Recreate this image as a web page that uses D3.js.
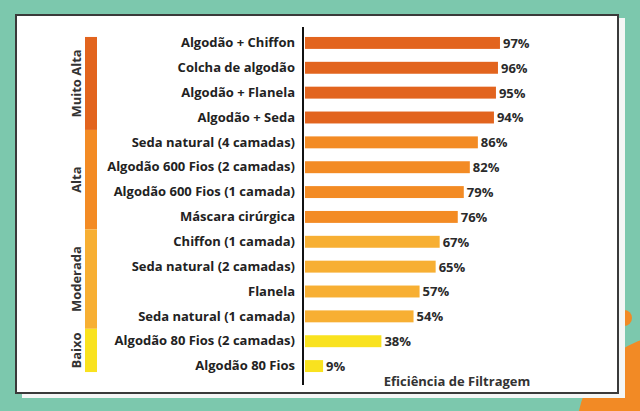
<!DOCTYPE html>
<html>
<head>
<meta charset="utf-8">
<script src="https://cdn.jsdelivr.net/npm/d3@7"></script>
<style>
  html, body { margin: 0; padding: 0; background: #7cc8ad; }
  svg { display: block; }
  text { font-family: "Open Sans", sans-serif; font-weight: 700; fill: #222; }
</style>
</head>
<body>
<div id="chart"></div>
<script>
// materials, top to bottom
var materials = [
  "Algodão + Chiffon", "Colcha de algodão", "Algodão + Flanela", "Algodão + Seda",
  "Seda natural (4 camadas)", "Algodão 600 Fios (2 camadas)", "Algodão 600 Fios (1 camada)",
  "Máscara cirúrgica", "Chiffon (1 camada)", "Seda natural (2 camadas)", "Flanela",
  "Seda natural (1 camada)", "Algodão 80 Fios (2 camadas)", "Algodão 80 Fios"
];
var efficiency = [97, 96, 95, 94, 86, 82, 79, 76, 67, 65, 57, 54, 38, 9];
var levels = ["Muito Alta", "Alta", "Moderada", "Baixo"];
var levelOf = ["Muito Alta", "Muito Alta", "Muito Alta", "Muito Alta",
  "Alta", "Alta", "Alta", "Alta",
  "Moderada", "Moderada", "Moderada", "Moderada",
  "Baixo", "Baixo"];
var levelColors = ["#e2641e", "#f38b24", "#f7af33", "#f9e21f"];
var axisTitle = "Eficiência de Filtragem";

var fullWidth = 640, fullHeight = 411;

var svg = d3.select("#chart").append("svg")
  .attr("width", fullWidth)
  .attr("height", fullHeight);

// background decoration
svg.append("circle").attr("cx", 672).attr("cy", 430).attr("r", 95).attr("fill", "#f28a25");
svg.append("circle").attr("cx", 624).attr("cy", 318).attr("r", 8).attr("fill", "#f28a25");
svg.append("path")
  .attr("d", d3.arc()({innerRadius: 30, outerRadius: 36, startAngle: -0.2, endAngle: 0.9}))
  .attr("transform", "translate(596,402)")
  .attr("fill", "#e8552a");

// panel with offset sheet behind it
svg.append("rect").attr("x", 22).attr("y", 18).attr("width", 603).attr("height", 380).attr("fill", "#f4f6f5");
svg.append("rect").attr("x", 16).attr("y", 15).attr("width", 602).attr("height", 378)
  .attr("fill", "#fff").attr("stroke", "#3a3a3a").attr("stroke-width", 2);

var x = d3.scaleLinear().domain([0, 100]).range([305, 506]);
var y = d3.scaleBand().domain(materials).range([30.5, 378.5]).paddingInner(0.52).paddingOuter(0.26);
var color = d3.scaleOrdinal().domain(levels).range(levelColors);

var rows = materials.map(function(m, i) {
  return {name: m, value: efficiency[i], level: levelOf[i]};
});

// bars
svg.selectAll("rect.bar").data(rows).enter().append("rect")
  .attr("class", "bar")
  .attr("x", x(0))
  .attr("y", function(d) { return y(d.name); })
  .attr("width", function(d) { return x(d.value) - x(0); })
  .attr("height", y.bandwidth())
  .attr("fill", function(d) { return color(d.level); });

// value labels
svg.selectAll("text.val").data(rows).enter().append("text")
  .attr("class", "val")
  .attr("x", function(d) { return x(d.value) + 3; })
  .attr("y", function(d) { return y(d.name) + y.bandwidth() / 2; })
  .attr("dy", "0.38em")
  .attr("font-size", 13)
  .style("fill", "#2a2a2a")
  .text(function(d) { return d.value + "%"; });

// category axis
var yAxis = d3.axisLeft(y).tickSize(0).tickPadding(8);
var gy = svg.append("g").attr("transform", "translate(" + (x(0) - 2) + ",0)").call(yAxis);
gy.select(".domain").remove();
gy.selectAll("text").attr("font-size", 13).attr("font-family", null).style("fill", "#222");
svg.append("line")
  .attr("x1", x(0) - 2).attr("x2", x(0) - 2)
  .attr("y1", 27).attr("y2", 385)
  .attr("stroke", "#111").attr("stroke-width", 2);

// level bands on the left
var half = (y.step() - y.bandwidth()) / 2;
var groups = levels.map(function(l) {
  var names = rows.filter(function(r) { return r.level === l; }).map(function(r) { return r.name; });
  var first = names[0], last = names[names.length - 1];
  var top = first === materials[0] ? y(first) : y(first) - half;
  var bottom = last === materials[materials.length - 1] ? y(last) + y.bandwidth() : y(last) + y.bandwidth() + half;
  return {level: l, top: top, bottom: bottom};
});

svg.selectAll("rect.band").data(groups).enter().append("rect")
  .attr("class", "band")
  .attr("x", 85).attr("width", 12)
  .attr("y", function(d) { return d.top; })
  .attr("height", function(d) { return d.bottom - d.top; })
  .attr("fill", function(d) { return color(d.level); });

svg.selectAll("text.lvl").data(groups).enter().append("text")
  .attr("class", "lvl")
  .attr("transform", function(d) { return "translate(76," + (d.top + d.bottom) / 2 + ") rotate(-90)"; })
  .attr("text-anchor", "middle")
  .attr("dy", "0.36em")
  .attr("font-size", 13)
  .style("fill", "#333")
  .text(function(d) { return d.level; });

// axis title
svg.append("text")
  .attr("x", 457).attr("y", 386)
  .attr("text-anchor", "middle")
  .attr("font-size", 13)
  .style("fill", "#333")
  .text(axisTitle);
</script>
</body>
</html>
